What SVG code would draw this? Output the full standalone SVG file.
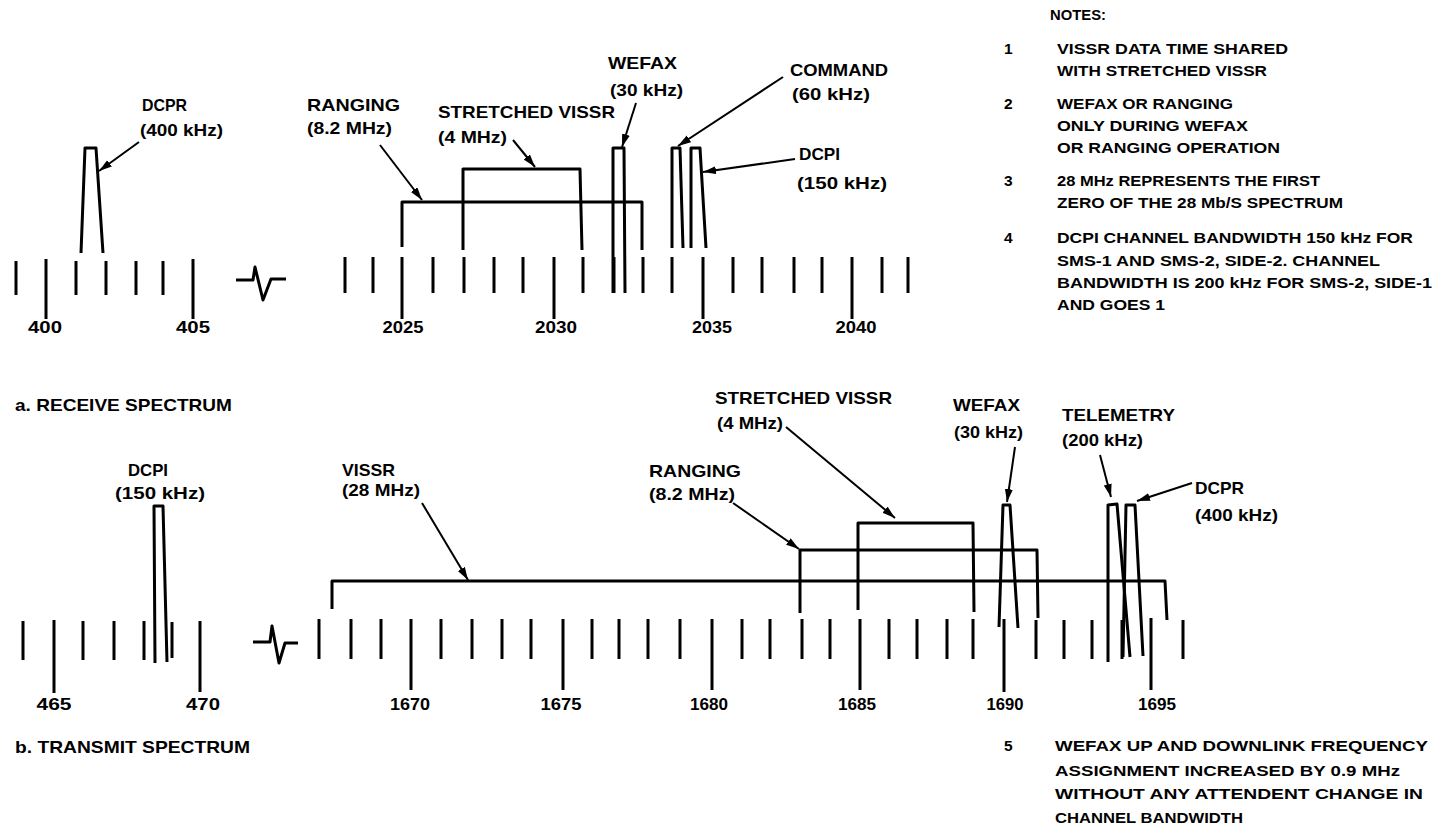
<svg xmlns="http://www.w3.org/2000/svg" width="1441" height="829" viewBox="0 0 1441 829">
<style>
.bg{fill:#fff}
.ln{stroke:#000;stroke-width:3;fill:none;stroke-linejoin:round}
.tk{stroke:#000;stroke-width:3}
.ar{stroke:#000;stroke-width:2;fill:none;marker-end:url(#ah)}
text{font-family:"Liberation Sans",Arial,sans-serif;font-weight:bold;fill:#000}
.lb{font-size:17px}
.nt{font-size:15.5px}
.ax{font-size:17px;text-anchor:middle}
</style>
<defs>
<marker id="ah" markerUnits="userSpaceOnUse" markerWidth="14" markerHeight="9" refX="13" refY="4" orient="auto">
<path d="M0,0 L13,4 L0,8 z" fill="#000"/>
</marker>
</defs>
<rect class="bg" x="0" y="0" width="1441" height="829"/>

<g id="receive-axis">
<path class="tk" d="M16,261V295 M46,259V319 M76,261V295 M106,261V295 M136,261V295 M163,261V295 M193,259V319"/>
<path class="ln" d="M236,280H253L255,267L263,300L271,279H286" stroke-width="2.5"/>
<path class="tk" d="M345,257V293 M373,257V293 M402,257V319 M433,257V293 M464,257V293 M494,257V293 M523,257V293 M554,257V319 M583,257V293 M614,257V293 M643,257V293 M672,257V293 M703,257V319 M733,257V293 M762,257V293 M794,257V293 M822,257V293 M852,257V319 M882,257V293 M908,257V293"/>
<text class="ax" x="45" y="333" textLength="34" lengthAdjust="spacingAndGlyphs">400</text>
<text class="ax" x="193" y="333" textLength="34" lengthAdjust="spacingAndGlyphs">405</text>
<text class="ax" x="403" y="333" textLength="41" lengthAdjust="spacingAndGlyphs">2025</text>
<text class="ax" x="556" y="333" textLength="42" lengthAdjust="spacingAndGlyphs">2030</text>
<text class="ax" x="712" y="333" textLength="40" lengthAdjust="spacingAndGlyphs">2035</text>
<text class="ax" x="856" y="333" textLength="41" lengthAdjust="spacingAndGlyphs">2040</text>
<text class="lb" x="15" y="411" font-size="16.5" textLength="217" lengthAdjust="spacingAndGlyphs">a.  RECEIVE SPECTRUM</text>
</g>

<g id="rx-dcpr">
<path class="ln" d="M81,253L85,148H96L103,253"/>
<text class="lb" x="142" y="111" textLength="45" lengthAdjust="spacingAndGlyphs">DCPR</text>
<text class="lb" x="140" y="136" textLength="83" lengthAdjust="spacingAndGlyphs">(400 kHz)</text>
</g>
<g id="rx-ranging">
<path class="ln" d="M402,247V202H642V250"/>
<text class="lb" x="307" y="111" textLength="93" lengthAdjust="spacingAndGlyphs">RANGING</text>
<text class="lb" x="307" y="134" textLength="85" lengthAdjust="spacingAndGlyphs">(8.2 MHz)</text>
</g>
<g id="rx-stretched-vissr">
<path class="ln" d="M463,250V169H580L582,250"/>
<text class="lb" x="438" y="118" textLength="177" lengthAdjust="spacingAndGlyphs">STRETCHED VISSR</text>
<text class="lb" x="438" y="143" textLength="69" lengthAdjust="spacingAndGlyphs">(4 MHz)</text>
</g>
<g id="rx-wefax">
<path class="ln" d="M613,293V148H624L625,293"/>
<text class="lb" x="608" y="69" textLength="69" lengthAdjust="spacingAndGlyphs">WEFAX</text>
<text class="lb" x="610" y="96" textLength="73" lengthAdjust="spacingAndGlyphs">(30 kHz)</text>
</g>
<g id="rx-command">
<path class="ln" d="M672,248V148H680L683,248"/>
<text class="lb" x="790" y="76" textLength="98" lengthAdjust="spacingAndGlyphs">COMMAND</text>
<text class="lb" x="792" y="100" textLength="78" lengthAdjust="spacingAndGlyphs">(60 kHz)</text>
</g>
<g id="rx-dcpi">
<path class="ln" d="M691,248V148H700L706,248"/>
<text class="lb" x="799" y="160" textLength="41" lengthAdjust="spacingAndGlyphs">DCPI</text>
<text class="lb" x="797" y="189" textLength="90" lengthAdjust="spacingAndGlyphs">(150 kHz)</text>
</g>

<g id="transmit-axis">
<path class="tk" d="M23,621V660 M54,620V693 M83,621V660 M114,621V660 M144,621V660 M172,622V658 M200,621V692"/>
<path class="ln" d="M253,642H270L272,626L279,663L285,643H298" stroke-width="2.5"/>
<path class="tk" d="M319,619V659 M351,619V659 M381,619V659 M411,619V690 M441,619V659 M472,619V659 M502,619V659 M531,619V659 M563,619V690 M592,619V659 M619,619V659 M648,619V659 M680,619V659 M712,619V690 M742,619V659 M770,619V659 M802,619V659 M830,619V659 M860,619V690 M889,619V659 M917,619V659 M947,619V659 M973,619V659 M1004,619V692 M1036,620V659 M1064,620V659 M1092,620V659 M1122,620V659 M1151,618V690 M1183,620V659"/>
<text class="ax" x="54" y="710" textLength="35" lengthAdjust="spacingAndGlyphs">465</text>
<text class="ax" x="203" y="710" textLength="34" lengthAdjust="spacingAndGlyphs">470</text>
<text class="ax" x="410" y="710" textLength="40" lengthAdjust="spacingAndGlyphs">1670</text>
<text class="ax" x="561" y="710" textLength="41" lengthAdjust="spacingAndGlyphs">1675</text>
<text class="ax" x="709" y="710" textLength="38" lengthAdjust="spacingAndGlyphs">1680</text>
<text class="ax" x="857" y="710" textLength="38" lengthAdjust="spacingAndGlyphs">1685</text>
<text class="ax" x="1005" y="710" textLength="37" lengthAdjust="spacingAndGlyphs">1690</text>
<text class="ax" x="1157" y="710" textLength="38" lengthAdjust="spacingAndGlyphs">1695</text>
<text class="lb" x="15" y="753" font-size="16.5" textLength="235" lengthAdjust="spacingAndGlyphs">b.  TRANSMIT SPECTRUM</text>
</g>

<g id="tx-dcpi">
<path class="ln" d="M155,663L154,506H163L167,662"/>
<text class="lb" x="128" y="476" textLength="40" lengthAdjust="spacingAndGlyphs">DCPI</text>
<text class="lb" x="115" y="499" textLength="90" lengthAdjust="spacingAndGlyphs">(150 kHz)</text>
</g>
<g id="tx-vissr">
<path class="ln" d="M332,609V581H1165L1167,620"/>
<text class="lb" x="342" y="476" textLength="53" lengthAdjust="spacingAndGlyphs">VISSR</text>
<text class="lb" x="342" y="496" textLength="78" lengthAdjust="spacingAndGlyphs">(28 MHz)</text>
</g>
<g id="tx-ranging">
<path class="ln" d="M800,613V550H1037L1038,618"/>
<text class="lb" x="649" y="477" textLength="92" lengthAdjust="spacingAndGlyphs">RANGING</text>
<text class="lb" x="649" y="500" textLength="86" lengthAdjust="spacingAndGlyphs">(8.2 MHz)</text>
</g>
<g id="tx-stretched-vissr">
<path class="ln" d="M858,610V523H973L974,612"/>
<text class="lb" x="715" y="404" textLength="177" lengthAdjust="spacingAndGlyphs">STRETCHED VISSR</text>
<text class="lb" x="717" y="429" textLength="66" lengthAdjust="spacingAndGlyphs">(4 MHz)</text>
</g>
<g id="tx-wefax">
<path class="ln" d="M999,627L1003,505H1010L1018,628"/>
<text class="lb" x="953" y="411" textLength="67" lengthAdjust="spacingAndGlyphs">WEFAX</text>
<text class="lb" x="954" y="438" textLength="69" lengthAdjust="spacingAndGlyphs">(30 kHz)</text>
</g>
<g id="tx-telemetry">
<path class="ln" d="M1108,662V505L1117,504L1130,657"/>
<text class="lb" x="1062" y="421" textLength="113" lengthAdjust="spacingAndGlyphs">TELEMETRY</text>
<text class="lb" x="1062" y="446" textLength="81" lengthAdjust="spacingAndGlyphs">(200 kHz)</text>
</g>
<g id="tx-dcpr">
<path class="ln" d="M1123,657L1126,505H1135L1143,656"/>
<text class="lb" x="1195" y="494" textLength="49" lengthAdjust="spacingAndGlyphs">DCPR</text>
<text class="lb" x="1195" y="521" textLength="83" lengthAdjust="spacingAndGlyphs">(400 kHz)</text>
</g>

<g id="connectors">
<line class="ar" x1="139" y1="142" x2="99" y2="171"/>
<line class="ar" x1="380" y1="145" x2="422" y2="200"/>
<line class="ar" x1="513" y1="140" x2="535" y2="167"/>
<line class="ar" x1="636" y1="103" x2="622" y2="147"/>
<line class="ar" x1="783" y1="77" x2="678" y2="146"/>
<line class="ar" x1="795" y1="159" x2="703" y2="172"/>
<line class="ar" x1="422" y1="503" x2="468" y2="580"/>
<line class="ar" x1="733" y1="503" x2="799" y2="549"/>
<line class="ar" x1="786" y1="427" x2="895" y2="518"/>
<line class="ar" x1="1015" y1="447" x2="1007" y2="502"/>
<line class="ar" x1="1100" y1="455" x2="1111" y2="497"/>
<line class="ar" x1="1192" y1="483" x2="1137" y2="501"/>
</g>

<g id="notes">
<text class="nt" x="1050" y="20" textLength="56" lengthAdjust="spacingAndGlyphs">NOTES:</text>
<text class="nt" x="1004" y="54">1</text>
<text class="nt" x="1057" y="54" textLength="231" lengthAdjust="spacingAndGlyphs">VISSR DATA TIME SHARED</text>
<text class="nt" x="1057" y="76" textLength="210" lengthAdjust="spacingAndGlyphs">WITH STRETCHED VISSR</text>
<text class="nt" x="1004" y="109">2</text>
<text class="nt" x="1057" y="109" textLength="176" lengthAdjust="spacingAndGlyphs">WEFAX OR RANGING</text>
<text class="nt" x="1057" y="131" textLength="191" lengthAdjust="spacingAndGlyphs">ONLY DURING WEFAX</text>
<text class="nt" x="1057" y="153" textLength="223" lengthAdjust="spacingAndGlyphs">OR RANGING OPERATION</text>
<text class="nt" x="1004" y="186">3</text>
<text class="nt" x="1057" y="186" textLength="263" lengthAdjust="spacingAndGlyphs">28 MHz  REPRESENTS THE FIRST</text>
<text class="nt" x="1057" y="208" textLength="286" lengthAdjust="spacingAndGlyphs">ZERO OF THE 28 Mb/S SPECTRUM</text>
<text class="nt" x="1004" y="243">4</text>
<text class="nt" x="1057" y="243" textLength="356" lengthAdjust="spacingAndGlyphs">DCPI CHANNEL BANDWIDTH 150 kHz FOR</text>
<text class="nt" x="1057" y="266" textLength="323" lengthAdjust="spacingAndGlyphs">SMS-1 AND SMS-2, SIDE-2.  CHANNEL</text>
<text class="nt" x="1057" y="288" textLength="375" lengthAdjust="spacingAndGlyphs">BANDWIDTH IS 200 kHz FOR SMS-2, SIDE-1</text>
<text class="nt" x="1057" y="310" textLength="108" lengthAdjust="spacingAndGlyphs">AND GOES 1</text>
<text class="nt" x="1004" y="751">5</text>
<text class="nt" x="1055" y="751" textLength="373" lengthAdjust="spacingAndGlyphs">WEFAX UP AND DOWNLINK FREQUENCY</text>
<text class="nt" x="1055" y="776" textLength="345" lengthAdjust="spacingAndGlyphs">ASSIGNMENT INCREASED BY 0.9 MHz</text>
<text class="nt" x="1055" y="799" textLength="368" lengthAdjust="spacingAndGlyphs">WITHOUT ANY ATTENDENT CHANGE IN</text>
<text class="nt" x="1055" y="823" textLength="188" lengthAdjust="spacingAndGlyphs">CHANNEL BANDWIDTH</text>
</g>
</svg>
